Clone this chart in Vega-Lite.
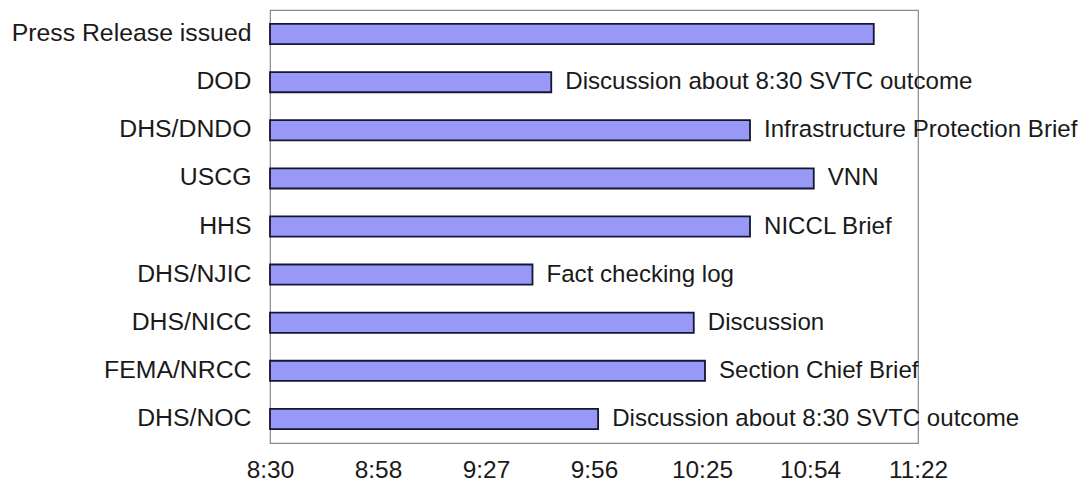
{
  "$schema": "https://vega.github.io/schema/vega-lite/v6.json",
  "width": 648,
  "height": 433,
  "autosize": {"type": "none"},
  "padding": {"left": 270, "top": 10, "right": 165, "bottom": 44},
  "background": "#ffffff",
  "config": {
    "font": "Liberation Sans",
    "view": {"stroke": "#8a8a8a", "strokeWidth": 1.2}
  },
  "data": {
    "values": [
      {"agency": "Press Release issued", "start": "2000-01-01T08:30:00", "end": "2000-01-01T11:11:00", "activity": ""},
      {"agency": "DOD", "start": "2000-01-01T08:30:00", "end": "2000-01-01T09:45:00", "activity": "Discussion about 8:30 SVTC outcome"},
      {"agency": "DHS/DNDO", "start": "2000-01-01T08:30:00", "end": "2000-01-01T10:38:00", "activity": "Infrastructure Protection Brief"},
      {"agency": "USCG", "start": "2000-01-01T08:30:00", "end": "2000-01-01T10:55:00", "activity": "VNN"},
      {"agency": "HHS", "start": "2000-01-01T08:30:00", "end": "2000-01-01T10:38:00", "activity": "NICCL Brief"},
      {"agency": "DHS/NJIC", "start": "2000-01-01T08:30:00", "end": "2000-01-01T09:40:00", "activity": "Fact checking log"},
      {"agency": "DHS/NICC", "start": "2000-01-01T08:30:00", "end": "2000-01-01T10:23:00", "activity": "Discussion"},
      {"agency": "FEMA/NRCC", "start": "2000-01-01T08:30:00", "end": "2000-01-01T10:26:00", "activity": "Section Chief Brief"},
      {"agency": "DHS/NOC", "start": "2000-01-01T08:30:00", "end": "2000-01-01T09:57:30", "activity": "Discussion about 8:30 SVTC outcome"}
    ]
  },
  "encoding": {
    "y": {
      "field": "agency",
      "type": "nominal",
      "sort": null,
      "title": null,
      "scale": {"paddingInner": 0.58, "paddingOuter": 0.29},
      "axis": {
        "ticks": false,
        "domain": false,
        "labelFontSize": 24.8,
        "labelColor": "#1a1a1a",
        "labelPadding": 19,
        "labelLimit": 400
      }
    }
  },
  "layer": [
    {
      "mark": {"type": "bar", "fill": "#9898f7", "stroke": "#161634", "strokeWidth": 1.8},
      "encoding": {
        "x": {
          "field": "start",
          "type": "temporal",
          "title": null,
          "scale": {
            "domain": [
              {"year": 2000, "month": 1, "date": 1, "hours": 8, "minutes": 30},
              {"year": 2000, "month": 1, "date": 1, "hours": 11, "minutes": 22, "seconds": 48}
            ],
            "nice": false
          },
          "axis": {
            "values": [
              {"year": 2000, "month": 1, "date": 1, "hours": 8, "minutes": 30},
              {"year": 2000, "month": 1, "date": 1, "hours": 8, "minutes": 58, "seconds": 48},
              {"year": 2000, "month": 1, "date": 1, "hours": 9, "minutes": 27, "seconds": 36},
              {"year": 2000, "month": 1, "date": 1, "hours": 9, "minutes": 56, "seconds": 24},
              {"year": 2000, "month": 1, "date": 1, "hours": 10, "minutes": 25, "seconds": 12},
              {"year": 2000, "month": 1, "date": 1, "hours": 10, "minutes": 54},
              {"year": 2000, "month": 1, "date": 1, "hours": 11, "minutes": 22, "seconds": 48}
            ],
            "format": "%-H:%M",
            "ticks": false,
            "domain": false,
            "grid": false,
            "labelFontSize": 24.4,
            "labelColor": "#1a1a1a",
            "labelPadding": 15,
            "labelFlush": false,
            "labelOverlap": false
          }
        },
        "x2": {"field": "end"}
      }
    },
    {
      "mark": {"type": "text", "align": "left", "baseline": "middle", "dx": 14, "fontSize": 24.1, "color": "#1a1a1a"},
      "encoding": {
        "x": {"field": "end", "type": "temporal"},
        "text": {"field": "activity"}
      }
    }
  ]
}
